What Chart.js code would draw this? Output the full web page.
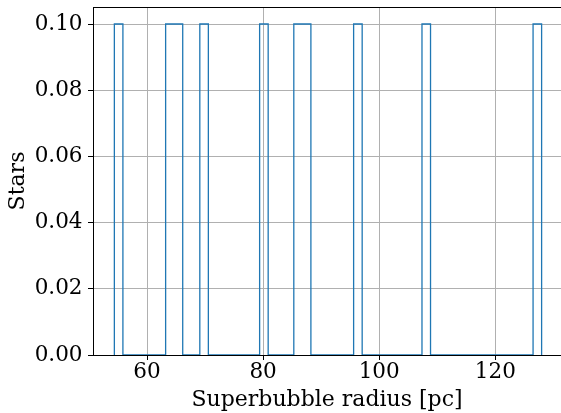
<!DOCTYPE html>
<html lang="en">
<head>
  <meta charset="UTF-8" />
  <title>Superbubble radius histogram</title>
  <script src="https://cdn.jsdelivr.net/npm/chart.js"></script>
  <style>
    html, body { margin: 0; padding: 0; background: #fff; }
    #wrap { position: relative; width: 561px; height: 413px; }
  </style>
</head>
<body>
  <div id="wrap">
    <canvas id="histChart"></canvas>
  </div>

  <script>
    // histogram bins (step outline), 50 equal bins
    const binStart = 54.37;
    const binEnd = 127.98;
    const starFractions = [
      0.1, 0, 0, 0, 0, 0, 0.1, 0.1, 0, 0,
      0.1, 0, 0, 0, 0, 0, 0, 0.1, 0, 0,
      0, 0.1, 0.1, 0, 0, 0, 0, 0, 0.1, 0,
      0, 0, 0, 0, 0, 0, 0.1, 0, 0, 0,
      0, 0, 0, 0, 0, 0, 0, 0, 0, 0.1
    ];
    const xTicks = [60, 80, 100, 120];
    const yTicks = [0, 0.02, 0.04, 0.06, 0.08, 0.10];

    const binWidth = (binEnd - binStart) / starFractions.length;

    // outline of a histtype='step' histogram
    const outline = [{ x: binStart, y: 0 }];
    starFractions.forEach((v, i) => {
      const left = binStart + i * binWidth;
      outline.push({ x: left, y: v });
      outline.push({ x: left + binWidth, y: v });
    });
    outline.push({ x: binEnd, y: 0 });

    const serif = "'DejaVu Serif', 'Liberation Serif', serif";
    const tickFont = { family: serif, size: 21.5 };
    const titleFont = { family: serif, size: 22 };

    // matplotlib draws a top spine, chart.js doesn't
    const topSpine = {
      id: 'topSpine',
      afterDraw(chart) {
        const { ctx, chartArea } = chart;
        ctx.save();
        ctx.strokeStyle = '#000';
        ctx.lineWidth = 1;
        ctx.beginPath();
        ctx.moveTo(chartArea.left, chartArea.top + 0.5);
        ctx.lineTo(chartArea.right, chartArea.top + 0.5);
        ctx.stroke();
        ctx.restore();
      }
    };

    const noPad = s => {
      s.paddingTop = 0; s.paddingBottom = 0;
      s.paddingLeft = 0; s.paddingRight = 0;
    };

    new Chart(document.getElementById('histChart'), {
      type: 'line',
      data: {
        datasets: [{
          label: 'Stars',
          data: outline,
          borderColor: '#1f77b4',
          borderWidth: 1.3,
          pointRadius: 0,
          tension: 0,
          fill: false
        }]
      },
      options: {
        responsive: true,
        maintainAspectRatio: false,
        animation: false,
        layout: { padding: { top: 7, right: 0, left: 0, bottom: 0 } },
        plugins: {
          legend: { display: false },
          tooltip: { enabled: false }
        },
        scales: {
          x: {
            type: 'linear',
            min: 50.69,
            max: 131.32,
            afterFit: s => { s.height = 58; noPad(s); },
            afterBuildTicks: s => { s.ticks = xTicks.map(v => ({ value: v })); },
            ticks: { color: '#000', font: tickFont, padding: 0, maxRotation: 0 },
            grid: { color: '#b0b0b0', lineWidth: 1, tickColor: '#000', tickLength: 5 },
            border: { color: '#000', width: 1 },
            title: {
              display: true,
              text: 'Superbubble radius [pc]',
              color: '#000',
              font: titleFont,
              padding: { top: 0, bottom: 0 }
            }
          },
          y: {
            min: 0,
            max: 0.10514,
            afterFit: s => { s.width = 93; noPad(s); },
            afterBuildTicks: s => { s.ticks = yTicks.map(v => ({ value: v })); },
            ticks: {
              color: '#000',
              font: tickFont,
              padding: 5.5,
              callback: v => v.toFixed(2)
            },
            grid: { color: '#b0b0b0', lineWidth: 1, tickColor: '#000', tickLength: 5 },
            border: { color: '#000', width: 1 },
            title: {
              display: true,
              text: 'Stars',
              color: '#000',
              font: titleFont,
              padding: { top: 5, bottom: 0 }
            }
          }
        }
      },
      plugins: [topSpine]
    });
  </script>
</body>
</html>
